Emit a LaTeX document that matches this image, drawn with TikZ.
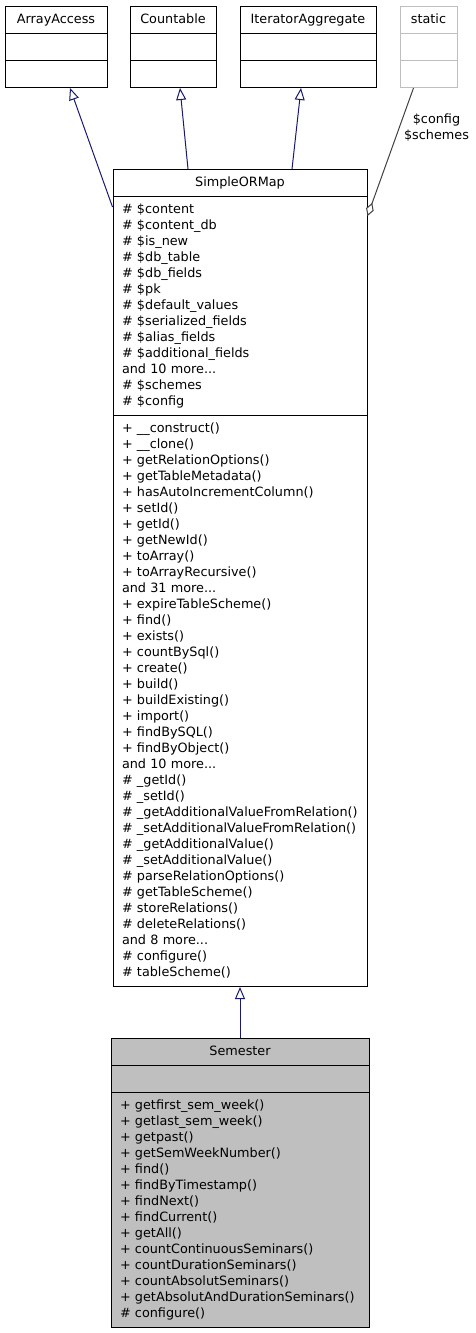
\documentclass[tikz,border=0pt]{standalone}
\usepackage{fontspec}
\setmainfont{DejaVu Sans}
\usetikzlibrary{arrows.meta,shapes.multipart}
\definecolor{EdgeBlue}{HTML}{191970}
\definecolor{EdgeGray}{HTML}{404040}
\definecolor{LightGray}{HTML}{BFBFBF}
\newcommand{\umltitle}[1]{\noindent\hfill\strut #1\hfill\null}
\tikzset{
  umlclass/.style={rectangle split, rectangle split parts=3, draw=black, line width=1pt, fill=white, anchor=north, inner xsep=9pt, inner ysep=5pt, align=left},
  extclass/.style={umlclass, draw=LightGray},
  curclass/.style={umlclass, fill=LightGray},
  inherit/.style={-{Triangle[open,length=12pt,width=10pt,fill=white]}, line width=1pt, draw=EdgeBlue},
  aggr/.style={-{Diamond[open,length=14pt,width=8pt,fill=white]}, line width=1pt, draw=EdgeGray}
}

\begin{document}
\begin{tikzpicture}[x=1pt,y=-1pt,font=\fontsize{12.8}{16}\selectfont]
\useasboundingbox (0,0) rectangle (476,1333);
% interfaces
\node[umlclass,text width=84pt] (aa) at (56,6) {\umltitle{ArrayAccess}\nodepart{two}\strut\nodepart{three}\strut};
\node[umlclass,text width=68pt] (cnt) at (173,6) {\umltitle{Countable}\nodepart{two}\strut\nodepart{three}\strut};
\node[umlclass,text width=118pt] (itag) at (308,6) {\umltitle{IteratorAggregate}\nodepart{two}\strut\nodepart{three}\strut};
\node[extclass,text width=39pt] (stc) at (428.5,6) {\umltitle{static}\nodepart{two}\strut\nodepart{three}\strut};
% base class
\node[umlclass,text width=236pt] (orm) at (240,169) {\umltitle{SimpleORMap}
\nodepart{two}\strut\# \$content\\
\# \$content\_db\\
\# \$is\_new\\
\# \$db\_table\\
\# \$db\_fields\\
\# \$pk\\
\# \$default\_values\\
\# \$serialized\_fields\\
\# \$alias\_fields\\
\# \$additional\_fields\\
and 10 more...\\
\# \$schemes\\
\# \$config\strut
\nodepart{three}\strut+ \_\_construct()\\
+ \_\_clone()\\
+ getRelationOptions()\\
+ getTableMetadata()\\
+ hasAutoIncrementColumn()\\
+ setId()\\
+ getId()\\
+ getNewId()\\
+ toArray()\\
+ toArrayRecursive()\\
and 31 more...\\
+ expireTableScheme()\\
+ find()\\
+ exists()\\
+ countBySql()\\
+ create()\\
+ build()\\
+ buildExisting()\\
+ import()\\
+ findBySQL()\\
+ findByObject()\\
and 10 more...\\
\# \_getId()\\
\# \_setId()\\
\# \_getAdditionalValueFromRelation()\\
\# \_setAdditionalValueFromRelation()\\
\# \_getAdditionalValue()\\
\# \_setAdditionalValue()\\
\# parseRelationOptions()\\
\# getTableScheme()\\
\# storeRelations()\\
\# deleteRelations()\\
and 8 more...\\
\# configure()\\
\# tableScheme()\strut};
% derived class
\node[curclass,text width=240pt] (sem) at (240,1038) {\umltitle{Semester}
\nodepart{two}\strut
\nodepart{three}\strut+ getfirst\_sem\_week()\\
+ getlast\_sem\_week()\\
+ getpast()\\
+ getSemWeekNumber()\\
+ find()\\
+ findByTimestamp()\\
+ findNext()\\
+ findCurrent()\\
+ getAll()\\
+ countContinuousSeminars()\\
+ countDurationSeminars()\\
+ countAbsolutSeminars()\\
+ getAbsolutAndDurationSeminars()\\
\# configure()\strut};
% relations
\draw[inherit] ([yshift=-38pt]orm.north west) -- ([xshift=14pt]aa.south);
\draw[inherit] ([xshift=-52pt]orm.north) -- ([xshift=7pt]cnt.south);
\draw[inherit] ([xshift=52pt]orm.north) -- ([xshift=-7pt]itag.south);
\draw[aggr] ([xshift=-15pt]stc.south) -- node[pos=0.31,right=1pt,align=center,text=black] (lbl) {\$config\\\$schemes} ([yshift=-47pt]orm.north east);
\draw[inherit] (sem.north) -- (orm.south);
\end{tikzpicture}
\end{document}
